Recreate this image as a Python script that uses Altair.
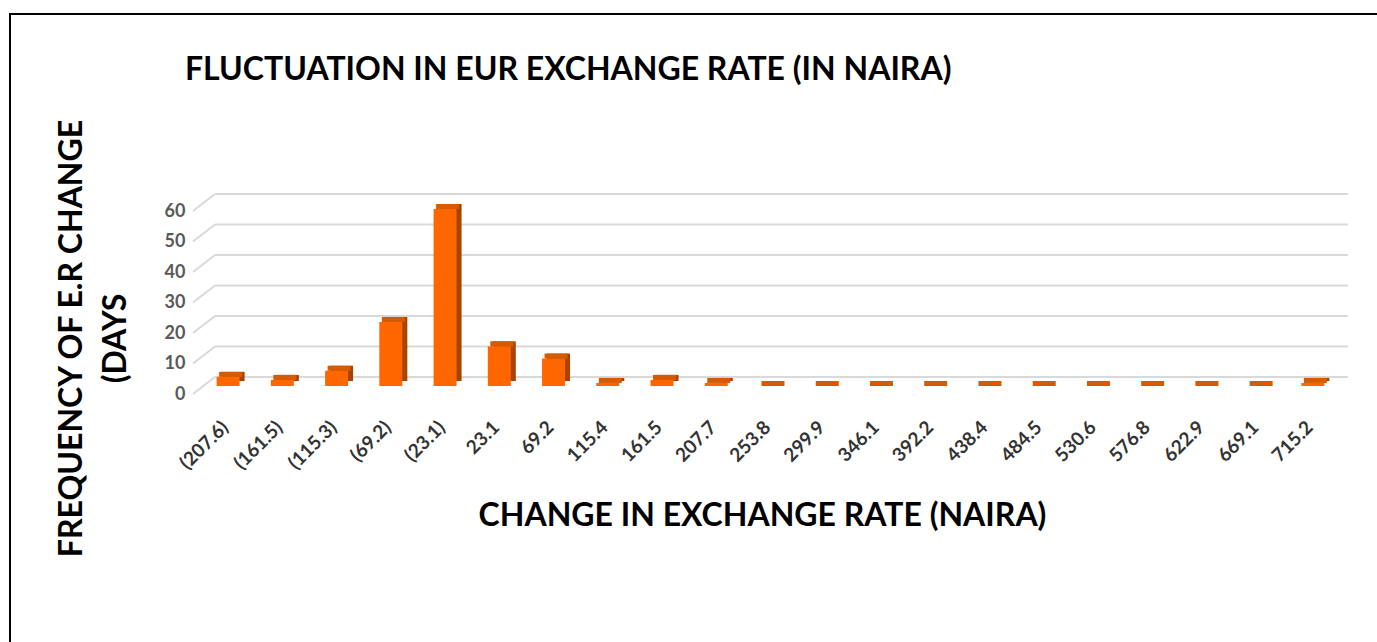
import altair as alt
import pandas as pd

categories = ["(207.6)", "(161.5)", "(115.3)", "(69.2)", "(23.1)", "23.1", "69.2",
              "115.4", "161.5", "207.7", "253.8", "299.9", "346.1", "392.2",
              "438.4", "484.5", "530.6", "576.8", "622.9", "669.1", "715.2"]
frequency = [3, 2, 5, 21, 58, 13, 9, 1, 2, 1, 0, 0, 0, 0, 0, 0, 0, 0, 0, 0, 1]
tick_values = [0, 10, 20, 30, 40, 50, 60]

title_text = "FLUCTUATION IN EUR EXCHANGE RATE (IN NAIRA)"
x_title = "CHANGE IN EXCHANGE RATE (NAIRA)"
y_title = ["FREQUENCY OF E.R CHANGE", "(DAYS"]

FONT = "Lato"
W, H = 1139, 183
PAD_L, PAD_T = 201, 203

bars_df = pd.DataFrame({"cat": categories, "freq": frequency})
ticks_df = pd.DataFrame({"freq": tick_values})
frame_df = pd.DataFrame({"d": [0]})

yscale = alt.Scale(domain=[0, 60], nice=False, zero=True)
xaxis = alt.Axis(title=x_title, labelAngle=-45, labelAlign="right",
                 labelBaseline="middle", labelFont=FONT, labelFontSize=19,
                 labelFontWeight="bold", labelColor="#333333",
                 labelPadding=38, labelOffset=-3, domain=False, ticks=False,
                 grid=False, titleFont=FONT, titleFontSize=32,
                 titleFontWeight="bold", titleColor="#000000",
                 titleX=561, titleY=129, titleBaseline="middle",
                 titleAlign="center", titleAnchor="middle")
yaxis = alt.Axis(values=tick_values, title=y_title, grid=False, domain=False,
                 ticks=False, labelFont=FONT, labelFontSize=18,
                 labelFontWeight="bold", labelColor="#595959",
                 labelPadding=16, labelOffset=8,
                 titleFont=FONT, titleFontSize=32, titleFontWeight="bold",
                 titleColor="#000000", titleAngle=-90, titleAlign="center",
                 titleBaseline="top", titleLineHeight=44,
                 titleX=-145, titleY=135)

xenc = alt.X("cat:N", sort=categories,
             scale=alt.Scale(paddingInner=0, paddingOuter=0), axis=xaxis)
yenc = alt.Y("freq:Q", scale=yscale, axis=yaxis)

base = alt.Chart(bars_df)

grid_back = alt.Chart(ticks_df).mark_rule(color="#D9D9D9", strokeWidth=2, yOffset=-9).encode(
    x=alt.value(14), x2=alt.value(1147), y=yenc,
)
grid_side = alt.Chart(ticks_df).mark_rule(color="#D9D9D9", strokeWidth=2,
                                          yOffset=8, y2Offset=-9).encode(
    x=alt.value(-8), x2=alt.value(14), y=yenc, y2=alt.Y2("freq:Q"),
)

side = base.mark_bar(size=23, color="#A84300", xOffset=5, yOffset=-5, y2Offset=-5).encode(
    x=xenc, y=yenc, y2=alt.datum(0),
)
top = base.mark_bar(size=23, color="#D65A00", xOffset=2.5, yOffset=-5).encode(
    x=xenc, y=yenc, y2=alt.Y2("freq:Q"),
)
front = base.mark_bar(size=23, color="#FF6600").encode(
    x=xenc, y=yenc, y2=alt.datum(0),
)

border_left = alt.Chart(frame_df).mark_rule(color="#000000", strokeWidth=2).encode(
    x=alt.value(10 - PAD_L), y=alt.value(14 - PAD_T), y2=alt.value(700 - PAD_T))
border_top = alt.Chart(frame_df).mark_rule(color="#000000", strokeWidth=2).encode(
    x=alt.value(9 - PAD_L), x2=alt.value(1400 - PAD_L), y=alt.value(14 - PAD_T))

chart = alt.layer(grid_back, grid_side, side, top, front, border_left, border_top).properties(
    width=W, height=H,
    title=alt.TitleParams(title_text, anchor="start", frame="group", font=FONT,
                          fontSize=32, fontWeight="bold", color="#000000",
                          dx=-16, dy=78),
    autosize=alt.AutoSizeParams(type="none"),
    padding={"left": PAD_L, "top": PAD_T, "right": 1377 - PAD_L - W, "bottom": 642 - PAD_T - H},
    background="#FFFFFF",
).configure_view(stroke=None)

chart.save("out.html", embed_options={"renderer": "svg", "actions": False})
